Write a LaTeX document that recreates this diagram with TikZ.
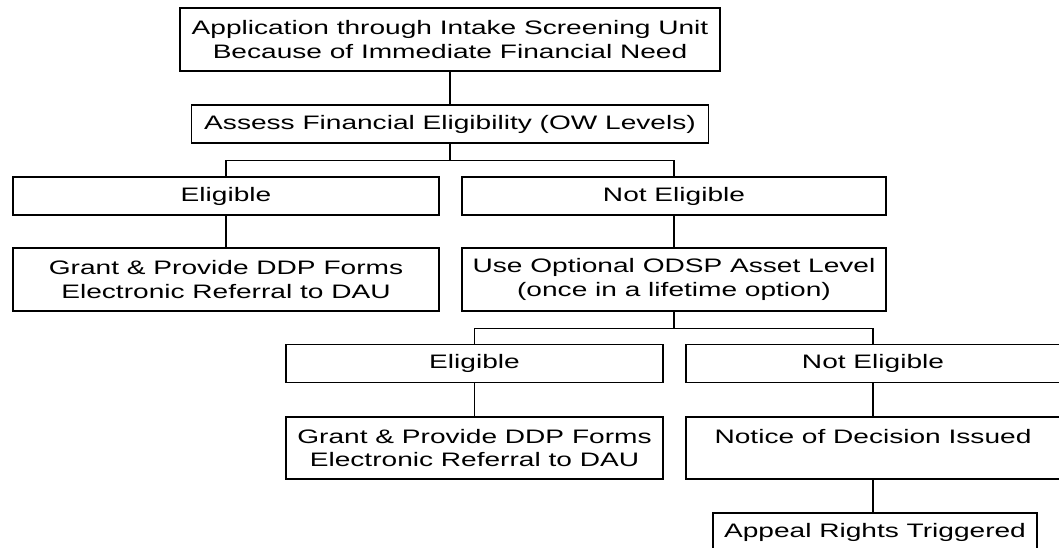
\documentclass[tikz,border=0pt]{standalone}
\usepackage{fontspec}
\setmainfont{Liberation Sans}[FakeStretch=1.44]
\tikzset{
  BoxStyle/.style = { rectangle, draw = black, line width = 1.2pt,
                      align = center, inner sep = 0pt,
                      font = \fontsize{19.5pt}{23.3pt}\selectfont },
  OneLine/.style  = { BoxStyle, minimum height = 38pt },
  TwoLine/.style  = { BoxStyle, minimum height = 63pt },
  EdgeStyle/.style = { line width = 1.2pt } }

\begin{document}
\begin{tikzpicture}[x=1pt,y=1pt]
  \clip (0,0) rectangle (1059,-548);
  \node[TwoLine, minimum width=540pt](A) at (450,-39.5)
    {Application through Intake Screening Unit\\Because of Immediate Financial Need};
  \node[OneLine, minimum width=517pt](B) at (450,-124)
    {Assess Financial Eligibility (OW Levels)};
  \node[OneLine, minimum width=426pt](C) at (226,-196) {Eligible};
  \node[OneLine, minimum width=424pt](D) at (674,-196) {Not Eligible};
  \node[TwoLine, minimum width=426pt](E) at (226,-279.5)
    {Grant \& Provide DDP Forms\\Electronic Referral to DAU};
  \node[TwoLine, minimum width=424pt](F) at (674,-279.5)
    {Use Optional ODSP Asset Level\\(once in a lifetime option)};
  \node[OneLine, minimum width=377pt](G) at (474.5,-363.5) {Eligible};
  \node[OneLine, minimum width=374pt](H) at (873,-363.5) {Not Eligible};
  \node[TwoLine, minimum width=377pt, minimum height=62pt](I) at (474.5,-448)
    {Grant \& Provide DDP Forms\\Electronic Referral to DAU};
  \node[TwoLine, minimum width=374pt, minimum height=62pt](J) at (873,-448)
    {Notice of Decision Issued\\ \mbox{}};
  \node[OneLine, minimum width=324pt](K) at (875,-532) {Appeal Rights Triggered};
  %connectors
  \draw[EdgeStyle] (A.south) -- (A.south |- B.north);
  \draw[EdgeStyle] (B.south) -- ++(0,-17) -| (C.north);
  \draw[EdgeStyle] (B.south) -- ++(0,-17) -| (D.north);
  \draw[EdgeStyle] (C) -- (E);
  \draw[EdgeStyle] (D) -- (F);
  \draw[EdgeStyle] (F.south) -- ++(0,-17) -| (G.north);
  \draw[EdgeStyle] (F.south) -- ++(0,-17) -| (H.north);
  \draw[EdgeStyle] (G) -- (I);
  \draw[EdgeStyle] (H) -- (J);
  \draw[EdgeStyle] (J.south) -- (J.south |- K.north);
\end{tikzpicture}
\end{document}
